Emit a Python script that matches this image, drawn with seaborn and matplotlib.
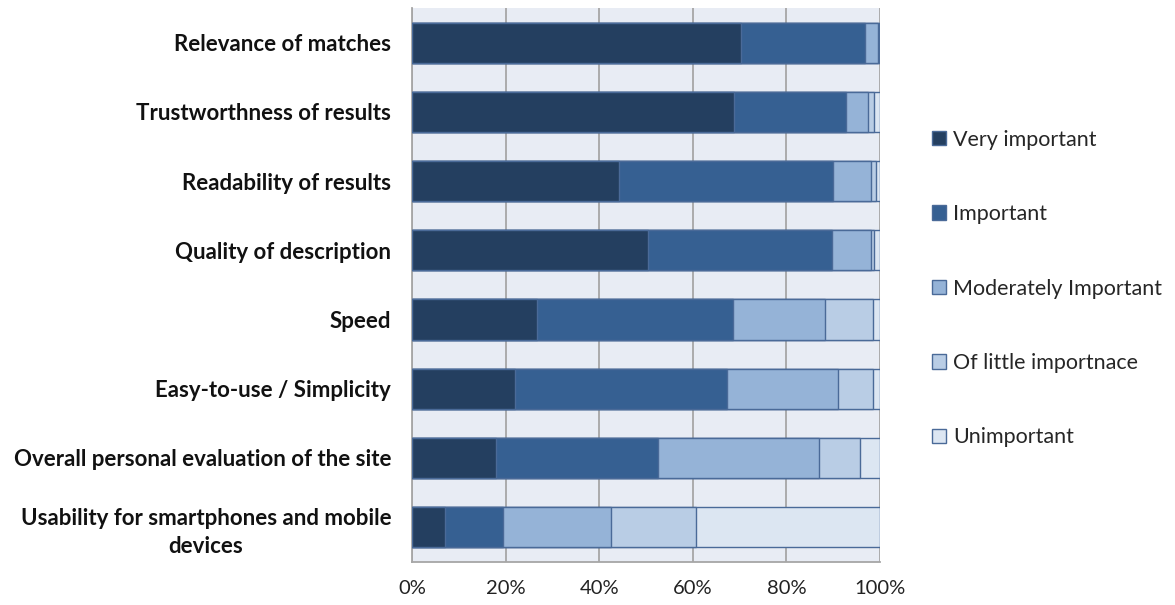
import numpy as np
import pandas as pd
import matplotlib
matplotlib.use("Agg")
import matplotlib.pyplot as plt
import seaborn as sns
from matplotlib.patches import Patch

categories = [
    "Relevance of matches",
    "Trustworthness of results",
    "Readability of results",
    "Quality of description",
    "Speed",
    "Easy-to-use / Simplicity",
    "Overall personal evaluation of the site",
    "Usability for smartphones and mobile\ndevices",
]
series_names = ["Very important", "Important", "Moderately Important",
                "Of little importnace", "Unimportant"]
very_important = [70.2, 68.9, 44.3, 50.4, 26.8, 22.0, 17.9, 7.0]
important = [26.7, 23.9, 45.7, 39.4, 41.7, 45.3, 34.7, 12.4]
moderately = [2.6, 4.6, 8.0, 8.2, 19.8, 23.7, 34.4, 23.2]
little = [0.3, 1.4, 1.1, 0.7, 10.1, 7.4, 8.7, 18.0]
unimportant = [0.2, 1.2, 0.9, 1.3, 1.6, 1.6, 4.3, 39.4]
xtick_labels = ["0%", "20%", "40%", "60%", "80%", "100%"]

colors = ["#243F60", "#366092", "#95B3D7", "#B9CDE5", "#DCE6F2"]
edge = "#4A6A98"

sns.set_theme(style="white")
plt.rcParams['font.family'] = ['Lato', 'DejaVu Sans']

vals = np.array([very_important, important, moderately, little, unimportant])
# normalise each row to 100
vals = vals / vals.sum(axis=0) * 100
cum = np.cumsum(vals, axis=0)

fig = plt.figure(figsize=(11.75, 6.05), dpi=100)
ax = fig.add_axes([412 / 1175, 1 - 561.8 / 605, 468 / 1175, (561.8 - 8.1) / 605])
ax.set_facecolor("#E8ECF4")

for i in range(len(series_names) - 1, -1, -1):
    df = pd.DataFrame({"cat": categories, "val": cum[i]})
    sns.barplot(data=df, x="val", y="cat", orient="h", color=colors[i],
                saturation=1, width=0.58, edgecolor=edge, linewidth=1.0,
                ax=ax, zorder=3)

ax.set_xlim(0, 100)
ax.set_ylim(len(categories) - 0.5, -0.5)
ax.set_xticks(np.arange(0, 101, 20))
ax.set_xticklabels(xtick_labels, fontsize=14.5, color="#222222")
ax.tick_params(axis="x", length=0, pad=13)
ax.tick_params(axis="y", length=0, pad=15)
for lab in ax.get_yticklabels():
    lab.set_fontweight("bold")
    lab.set_fontsize(16)
    lab.set_color("#111111")
    lab.set_multialignment("center")
    lab.set_linespacing(1.4)
ax.set_xlabel("")
ax.set_ylabel("")
ax.grid(axis="x", color="#A6A6A6", linewidth=1.3, zorder=0)
ax.set_axisbelow(True)
for s in ["top", "right"]:
    ax.spines[s].set_visible(False)
for s in ["left", "bottom"]:
    ax.spines[s].set_color("#A6A6A6")
    ax.spines[s].set_linewidth(1.3)

handles = [Patch(facecolor=colors[i], edgecolor=edge, linewidth=1.0, label=series_names[i])
           for i in range(len(series_names))]
fig.legend(handles=handles, loc="upper left", bbox_to_anchor=(923 / 1175, 1 - 121 / 605),
           frameon=False, fontsize=15.5, labelspacing=2.53, handlelength=0.65,
           handleheight=0.65, handletextpad=0.35, borderaxespad=0)

fig.savefig("out.png", dpi=100)
